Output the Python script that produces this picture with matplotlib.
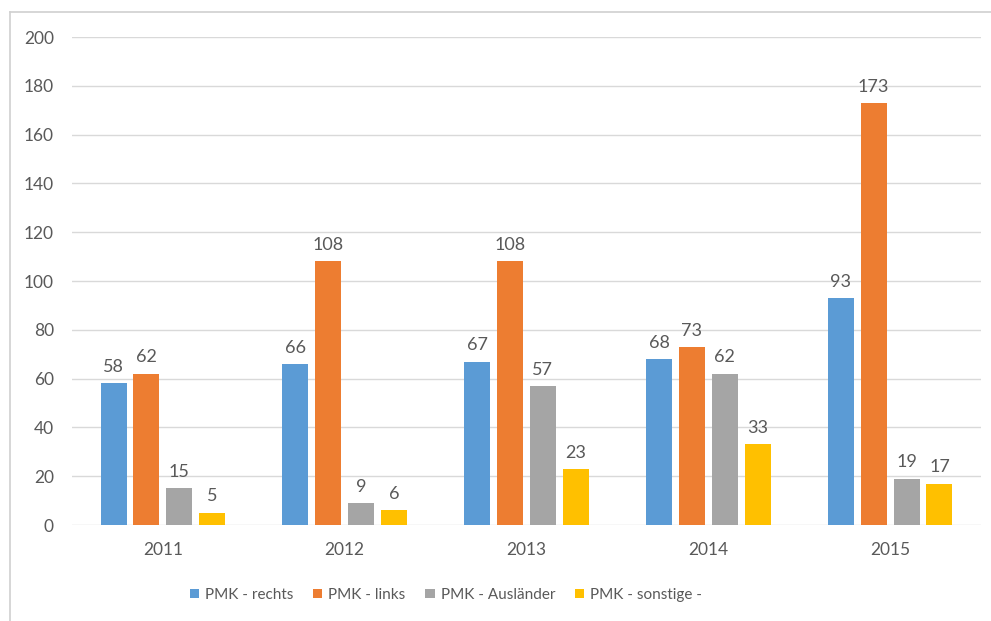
import matplotlib
matplotlib.use("Agg")
import matplotlib.pyplot as plt
from matplotlib.lines import Line2D
import numpy as np

# Cases per year and category
years = ["2011", "2012", "2013", "2014", "2015"]
series_names = ["PMK - rechts", "PMK - links", "PMK - Ausländer", "PMK - sonstige -"]
rechts = [58, 66, 67, 68, 93]
links = [62, 108, 108, 73, 173]
auslaender = [15, 9, 57, 62, 19]
sonstige = [5, 6, 23, 33, 17]
colors = ["#5B9BD5", "#ED7D31", "#A5A5A5", "#FFC000"]

plt.rcParams['font.family'] = ['Lato', 'DejaVu Sans']
text_color = "#595959"

fig = plt.figure(figsize=(9.91, 6.21), dpi=100)
ax = fig.add_axes([72 / 991, 96 / 621, 909 / 991, 488 / 621])

x = np.arange(len(years))
width = 0.143
step = 0.181
for i, (vals, name, col) in enumerate(zip([rechts, links, auslaender, sonstige], series_names, colors)):
    pos = x + (i - 1.5) * step
    bars = ax.bar(pos, vals, width, color=col, label=name, zorder=3)
    for b, v in zip(bars, vals):
        ax.annotate(str(v), (b.get_x() + b.get_width() / 2, v), xytext=(0, 6),
                    textcoords="offset points", ha="center", va="bottom",
                    fontsize=13, color=text_color)

ax.set_xlim(-0.5, len(years) - 0.5)
ax.set_ylim(0, 200)
ax.set_yticks(range(0, 201, 20))
ax.set_xticks(x)
ax.set_xticklabels(years)
ax.tick_params(axis="both", length=0, labelsize=12.5, colors=text_color)
ax.tick_params(axis="y", pad=13)
ax.tick_params(axis="x", pad=12)
ax.grid(axis="y", color="#D9D9D9", linewidth=1, zorder=0)
for s in ax.spines.values():
    s.set_visible(False)

leg = fig.legend(loc="center", bbox_to_anchor=(446 / 991, 1 - 595 / 621), ncol=4,
                 frameon=False, fontsize=11, handlelength=0.6, handleheight=0.6,
                 columnspacing=1.3, handletextpad=0.4)
for t in leg.get_texts():
    t.set_color(text_color)

# chart area frame (left and top edges)
fig.add_artist(Line2D([10 / 991, 10 / 991], [0, 1 - 12 / 621], color="#D0D0D0", linewidth=1.2))
fig.add_artist(Line2D([10 / 991, 1], [1 - 12 / 621, 1 - 12 / 621], color="#D0D0D0", linewidth=1.2))

fig.savefig("out.png", dpi=100)
